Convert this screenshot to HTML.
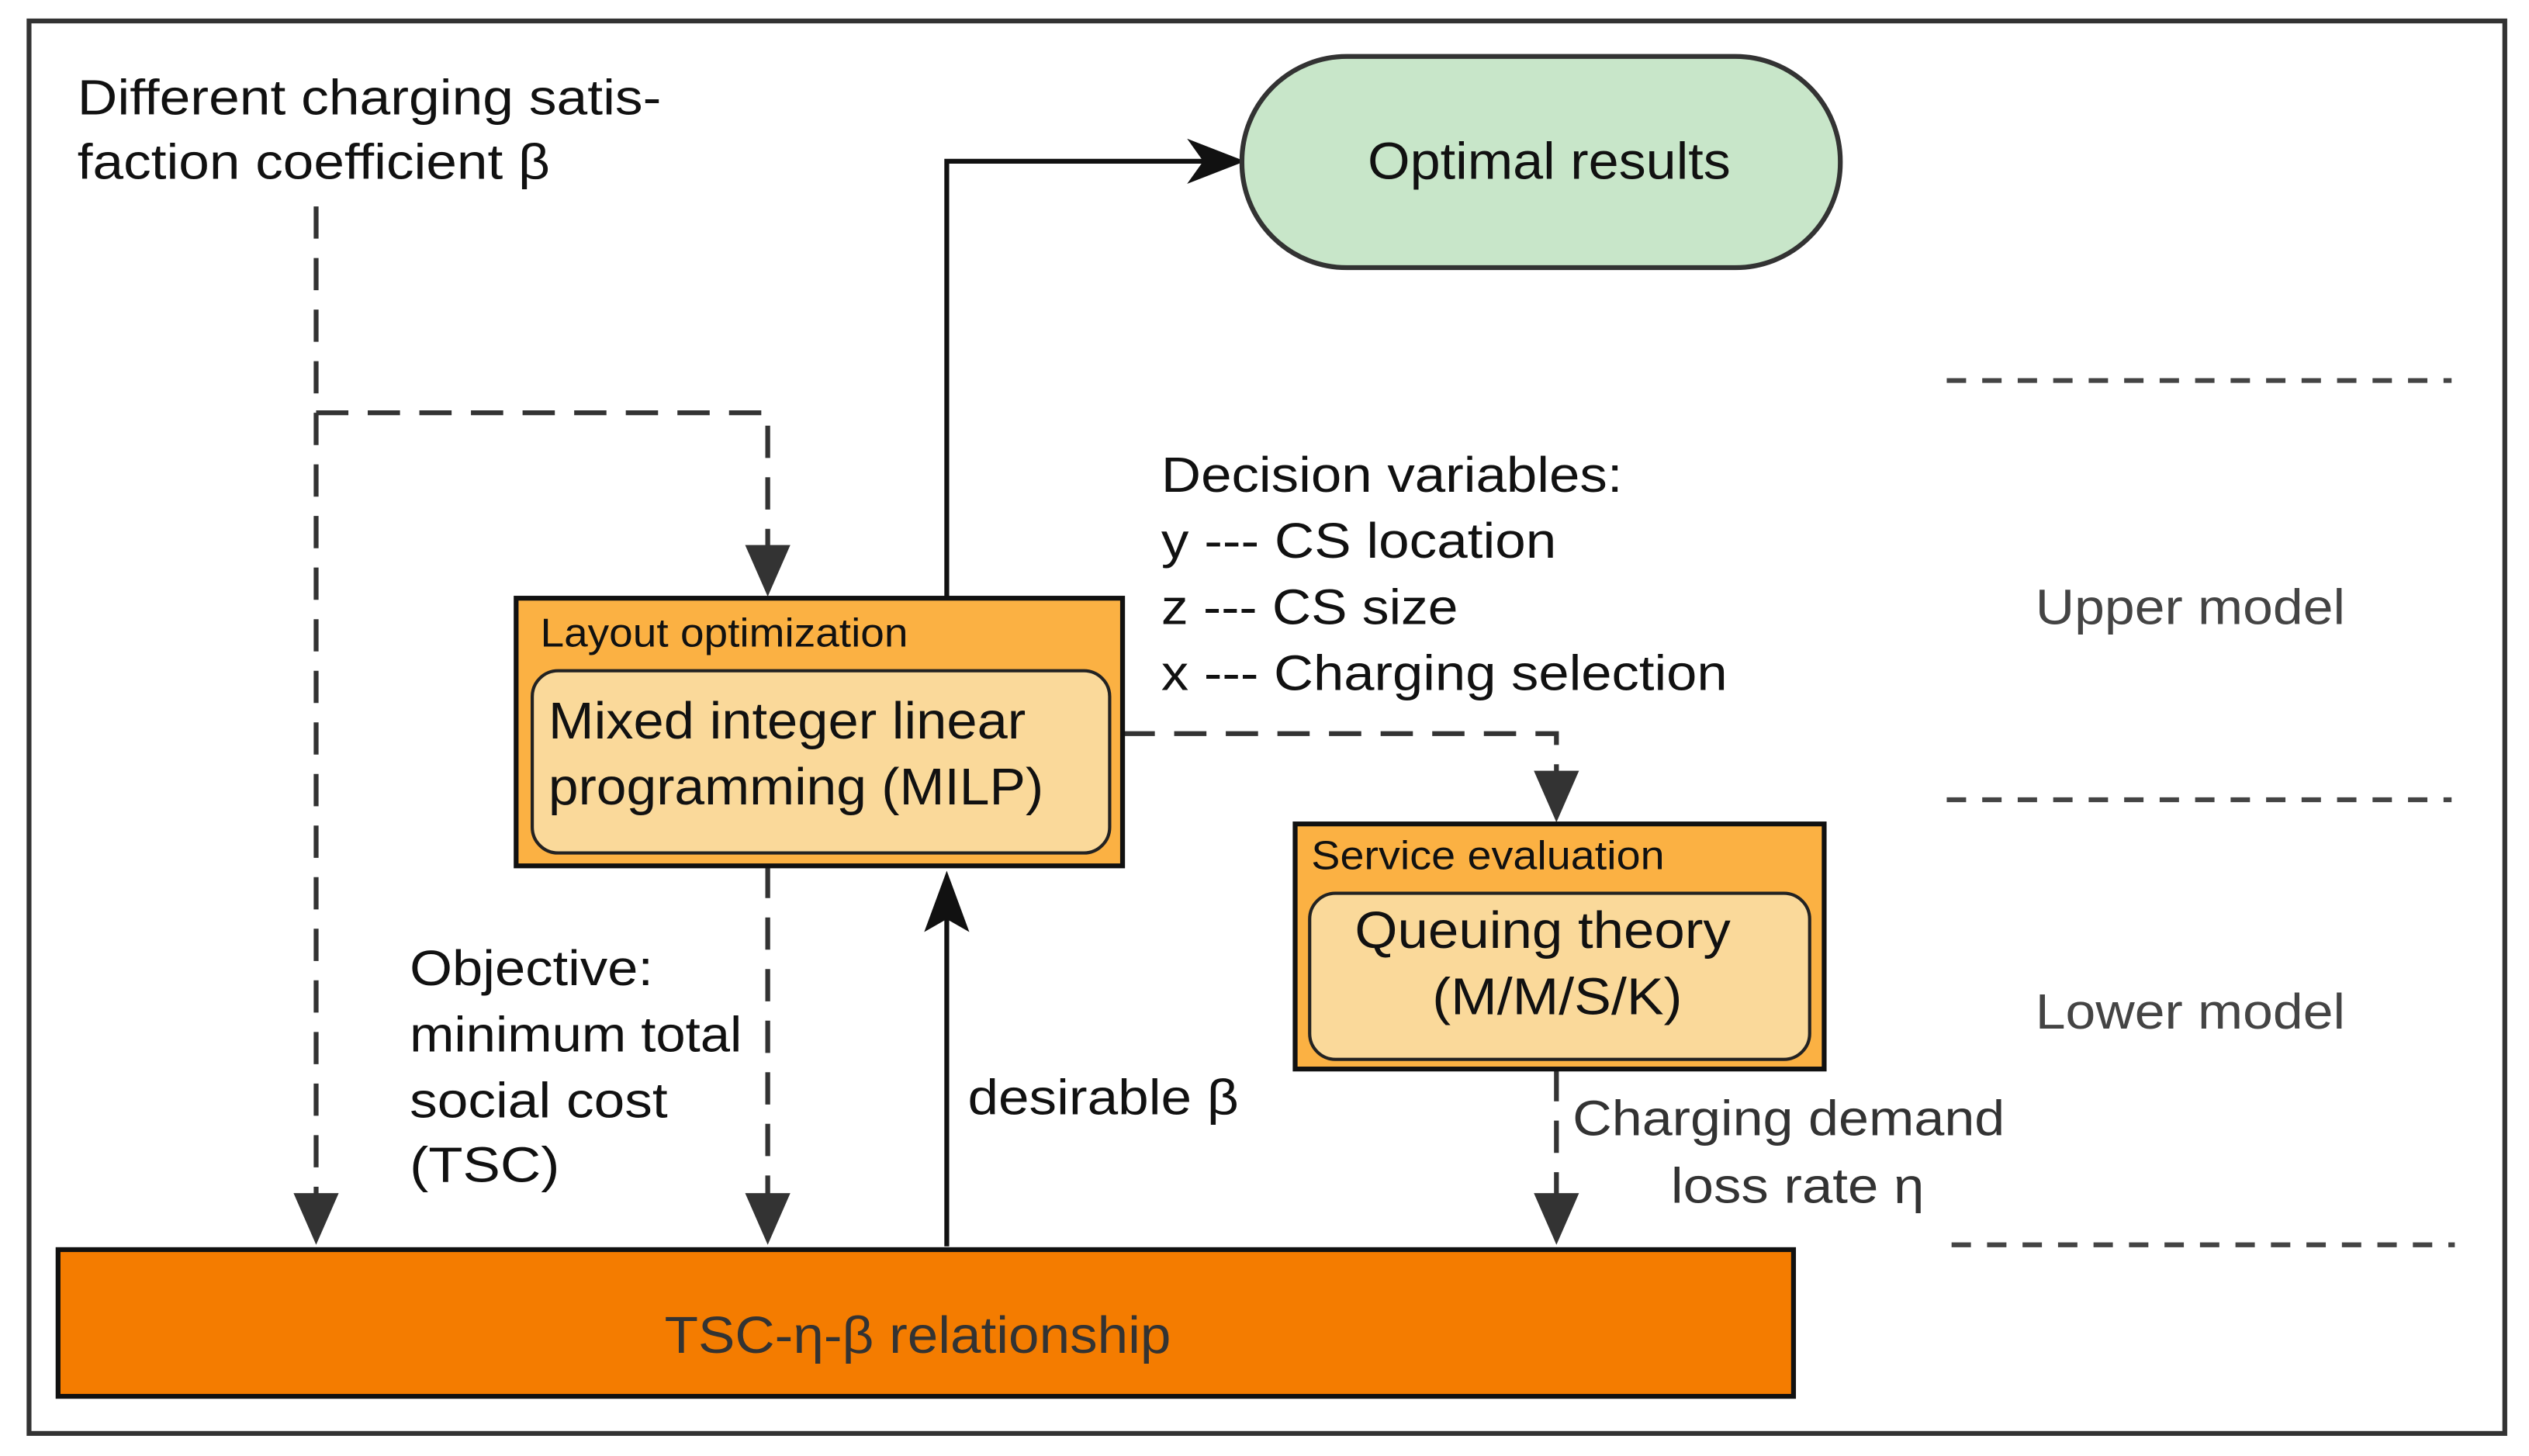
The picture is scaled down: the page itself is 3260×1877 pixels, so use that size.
<!DOCTYPE html>
<html><head><meta charset="utf-8"><style>
html,body{margin:0;padding:0;background:#fff;}
svg{display:block;}
text{font-family:"Liberation Sans",Arial,sans-serif;}
</style></head><body>
<svg width="3260" height="1877" viewBox="0 0 1568 903" preserveAspectRatio="none" xmlns="http://www.w3.org/2000/svg">
<rect x="18" y="13" width="1535" height="876" fill="#fff" stroke="#333" stroke-width="3"/>

<text x="48" y="71" font-size="31" fill="#111" textLength="362" lengthAdjust="spacingAndGlyphs">Different charging satis-</text>
<text x="48" y="111" font-size="31" fill="#111" textLength="293" lengthAdjust="spacingAndGlyphs">faction coefficient β</text>

<g stroke="#333" stroke-width="3" fill="none" stroke-dasharray="20,12">
<path d="M196 128 V755"/>
<path d="M196 256 H476 V352"/>
<path d="M696 455 H965 V492"/>
<path d="M965 663 V755"/>
<path d="M476 537 V755"/>
</g>
<g fill="#333">
<polygon points="182,740 210,740 196,772"/>
<polygon points="462,338 490,338 476,370"/>
<polygon points="951,478 979,478 965,510"/>
<polygon points="951,740 979,740 965,772"/>
<polygon points="462,740 490,740 476,772"/>
</g>

<g stroke="#111" stroke-width="3" fill="none">
<path d="M587 371 V100 H750"/>
<path d="M587 773 V565"/>
</g>
<polygon points="736,86 772,100 736,114 746,100" fill="#111"/>
<polygon points="573,578 587,540 601,578 587,570" fill="#111"/>

<rect x="770" y="35" width="371" height="131" rx="65" fill="#C8E6C9" stroke="#333" stroke-width="3"/>
<text x="848" y="111" font-size="32" fill="#111" textLength="225" lengthAdjust="spacingAndGlyphs">Optimal results</text>

<rect x="320" y="371" width="376" height="166" fill="#FBB143" stroke="#111" stroke-width="3"/>
<text x="335" y="401" font-size="25" fill="#111" textLength="228" lengthAdjust="spacingAndGlyphs">Layout optimization</text>
<rect x="330" y="416" width="358" height="113" rx="16" fill="#FAD99A" stroke="#222" stroke-width="2"/>
<text x="340" y="458" font-size="32" fill="#111" textLength="296" lengthAdjust="spacingAndGlyphs">Mixed integer linear</text>
<text x="340" y="499" font-size="32" fill="#111" textLength="307" lengthAdjust="spacingAndGlyphs">programming (MILP)</text>

<text x="720" y="305" font-size="31" fill="#111" textLength="286" lengthAdjust="spacingAndGlyphs">Decision variables:</text>
<text x="720" y="346" font-size="31" fill="#111" textLength="245" lengthAdjust="spacingAndGlyphs">y --- CS location</text>
<text x="720" y="387" font-size="31" fill="#111" textLength="184" lengthAdjust="spacingAndGlyphs">z --- CS size</text>
<text x="720" y="428" font-size="31" fill="#111" textLength="351" lengthAdjust="spacingAndGlyphs">x --- Charging selection</text>

<rect x="803" y="511" width="328" height="152" fill="#FBB143" stroke="#111" stroke-width="3"/>
<text x="813" y="539" font-size="25" fill="#111" textLength="219" lengthAdjust="spacingAndGlyphs">Service evaluation</text>
<rect x="812" y="554" width="310" height="103" rx="16" fill="#FAD99A" stroke="#222" stroke-width="2"/>
<text x="840" y="588" font-size="32" fill="#111" textLength="233" lengthAdjust="spacingAndGlyphs">Queuing theory</text>
<text x="888" y="629" font-size="32" fill="#111" textLength="155" lengthAdjust="spacingAndGlyphs">(M/M/S/K)</text>

<text x="975" y="704" font-size="31" fill="#333" textLength="268" lengthAdjust="spacingAndGlyphs">Charging demand</text>
<text x="1036" y="746" font-size="31" fill="#333" textLength="157" lengthAdjust="spacingAndGlyphs">loss rate η</text>

<text x="254" y="611" font-size="31" fill="#111" textLength="151" lengthAdjust="spacingAndGlyphs">Objective:</text>
<text x="254" y="652" font-size="31" fill="#111" textLength="206" lengthAdjust="spacingAndGlyphs">minimum total</text>
<text x="254" y="693" font-size="31" fill="#111" textLength="160" lengthAdjust="spacingAndGlyphs">social cost</text>
<text x="254" y="733" font-size="31" fill="#111" textLength="93" lengthAdjust="spacingAndGlyphs">(TSC)</text>

<text x="600" y="691" font-size="31" fill="#111" textLength="168" lengthAdjust="spacingAndGlyphs">desirable β</text>

<rect x="36" y="775" width="1076" height="91" fill="#F47C00" stroke="#111" stroke-width="3"/>
<text x="412" y="839" font-size="32" fill="#333" textLength="314" lengthAdjust="spacingAndGlyphs">TSC-η-β relationship</text>

<g stroke="#444" stroke-width="3" stroke-dasharray="12,10">
<path d="M1207 236 H1520"/>
<path d="M1207 496 H1520"/>
<path d="M1210 772 H1522"/>
</g>
<text x="1262" y="387" font-size="31" fill="#444" textLength="192" lengthAdjust="spacingAndGlyphs">Upper model</text>
<text x="1262" y="638" font-size="31" fill="#444" textLength="192" lengthAdjust="spacingAndGlyphs">Lower model</text>
</svg>
</body></html>
